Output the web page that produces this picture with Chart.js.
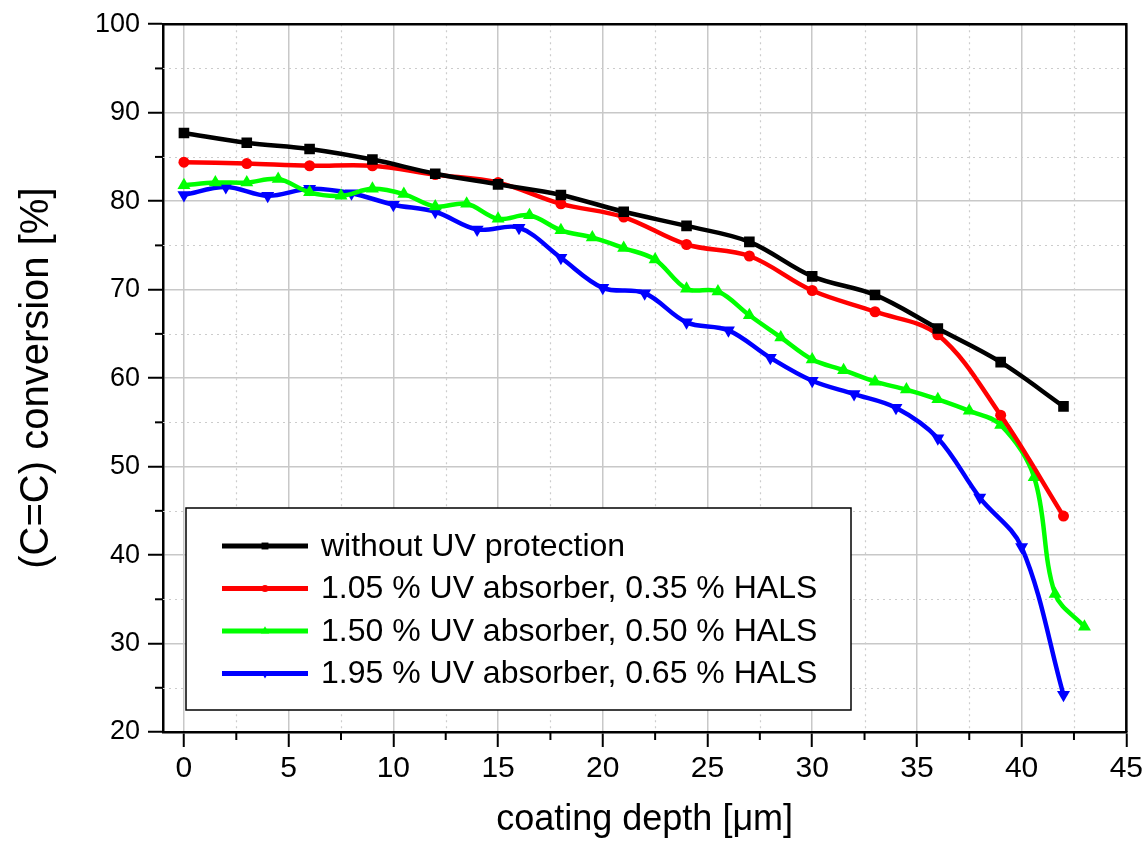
<!DOCTYPE html>
<html>
<head>
<meta charset="utf-8">
<title>(C=C) conversion vs coating depth</title>
<script src="https://cdn.jsdelivr.net/npm/chart.js@4.4.0/dist/chart.umd.min.js"></script>
<style>
  html, body { margin: 0; padding: 0; background: #fff; }
  #wrap { position: relative; width: 1147px; height: 842px; }
</style>
</head>
<body>
<div id="wrap"><canvas id="chart"></canvas></div>
<script>
// --- data ---
const depthBlack = [0, 3, 6, 9, 12, 15, 18, 21, 24, 27, 30, 33, 36, 39, 42];
const convBlack = [87.7, 86.6, 85.9, 84.7, 83.1, 81.9, 80.7, 78.8, 77.2, 75.4, 71.5, 69.4, 65.6, 61.8, 56.8];

const depthRed = [0, 3, 6, 9, 12, 15, 18, 21, 24, 27, 30, 33, 36, 39, 42];
const convRed = [84.4, 84.25, 84.0, 84.0, 83.0, 82.1, 79.7, 78.2, 75.1, 73.8, 69.9, 67.5, 64.9, 55.8, 44.4];

const depthGreen = [0, 1.5, 3, 4.5, 6, 7.5, 9, 10.5, 12, 13.5, 15, 16.5, 18, 19.5, 21, 22.5, 24, 25.5,
  27, 28.5, 30, 31.5, 33, 34.5, 36, 37.5, 39, 40.6, 41.6, 43];
const convGreen = [81.8, 82.1, 82.1, 82.5, 81.0, 80.6, 81.4, 80.8, 79.4, 79.7, 78.0, 78.4, 76.7, 75.9,
  74.7, 73.4, 70.1, 69.8, 67.1, 64.6, 62.1, 60.9, 59.6, 58.7, 57.6, 56.3, 54.7, 48.8, 35.6, 31.9];

const depthBlue = [0, 2, 4, 6, 8, 10, 12, 14, 16, 18, 20, 22, 24, 26, 28, 30, 32, 34, 36, 38, 40, 42];
const convBlue = [80.7, 81.6, 80.6, 81.4, 80.9, 79.6, 78.8, 76.8, 77.0, 73.6, 70.2, 69.6, 66.3, 65.4,
  62.3, 59.7, 58.2, 56.65, 53.2, 46.5, 40.9, 24.2];

const seriesLabels = [
  'without UV protection',
  '1.05 % UV absorber, 0.35 % HALS',
  '1.50 % UV absorber, 0.50 % HALS',
  '1.95 % UV absorber, 0.65 % HALS'
];

const xTickValues = [0, 5, 10, 15, 20, 25, 30, 35, 40, 45];
const xMinorValues = [2.5, 7.5, 12.5, 17.5, 22.5, 27.5, 32.5, 37.5, 42.5];
const yTickValues = [20, 30, 40, 50, 60, 70, 80, 90, 100];
const yMinorValues = [25, 35, 45, 55, 65, 75, 85, 95];

const FONT = "'Liberation Sans', Arial, Helvetica, sans-serif";

function toPoints(xs, ys) {
  return xs.map((x, i) => ({ x: x, y: ys[i] }));
}

function makeSet(label, xs, ys, color, style, radius, rotation) {
  return {
    label: label,
    data: toPoints(xs, ys),
    borderColor: color,
    backgroundColor: color,
    borderWidth: 4.5,
    pointStyle: style,
    pointRadius: radius,
    pointRotation: rotation || 0,
    pointBackgroundColor: color,
    pointBorderColor: color,
    pointBorderWidth: 0,
    tension: 0.35,
    fill: false
  };
}

// minor dotted grid, minor ticks and the top/right frame
const framePlugin = {
  id: 'frame',
  beforeDatasetsDraw(chart) {
    const { ctx, chartArea: a, scales: { x, y } } = chart;
    ctx.save();
    ctx.strokeStyle = '#cccccc';
    ctx.lineWidth = 1.2;
    ctx.setLineDash([2, 4]);
    xMinorValues.forEach(v => {
      const px = Math.round(x.getPixelForValue(v)) + 0.5;
      ctx.beginPath(); ctx.moveTo(px, a.top); ctx.lineTo(px, a.bottom); ctx.stroke();
    });
    yMinorValues.forEach(v => {
      const py = Math.round(y.getPixelForValue(v)) + 0.5;
      ctx.beginPath(); ctx.moveTo(a.left, py); ctx.lineTo(a.right, py); ctx.stroke();
    });
    ctx.setLineDash([]);
    ctx.strokeStyle = '#000';
    ctx.lineWidth = 2;
    xMinorValues.forEach(v => {
      const px = x.getPixelForValue(v);
      ctx.beginPath(); ctx.moveTo(px, a.bottom); ctx.lineTo(px, a.bottom + 8); ctx.stroke();
    });
    yMinorValues.forEach(v => {
      const py = y.getPixelForValue(v);
      ctx.beginPath(); ctx.moveTo(a.left - 8, py); ctx.lineTo(a.left, py); ctx.stroke();
    });
    ctx.restore();
  },
  afterDraw(chart) {
    const { ctx, chartArea: a } = chart;
    ctx.save();
    ctx.strokeStyle = '#000';
    ctx.lineWidth = 2.5;
    ctx.beginPath();
    ctx.moveTo(a.left, a.top);
    ctx.lineTo(a.right, a.top);
    ctx.lineTo(a.right, a.bottom);
    ctx.stroke();
    ctx.restore();
  }
};

// boxed legend in the lower left of the plot
const boxLegendPlugin = {
  id: 'boxLegend',
  afterDraw(chart) {
    const ctx = chart.ctx;
    const box = { left: 186, top: 508, right: 851, bottom: 710 };
    ctx.save();
    ctx.fillStyle = '#fff';
    ctx.fillRect(box.left, box.top, box.right - box.left, box.bottom - box.top);
    ctx.strokeStyle = '#000';
    ctx.lineWidth = 1.5;
    ctx.strokeRect(box.left, box.top, box.right - box.left, box.bottom - box.top);
    ctx.font = '32px ' + FONT;
    ctx.textBaseline = 'middle';
    ctx.textAlign = 'left';
    chart.data.datasets.forEach((ds, i) => {
      const yy = 546 + i * 42.5;
      ctx.strokeStyle = ds.borderColor;
      ctx.lineWidth = 5;
      ctx.beginPath(); ctx.moveTo(222, yy); ctx.lineTo(308, yy); ctx.stroke();
      ctx.fillStyle = ds.borderColor;
      Chart.helpers.drawPoint(ctx, {
        pointStyle: ds.pointStyle,
        radius: ds.pointRadius * 0.65,
        rotation: ds.pointRotation,
        borderWidth: 0
      }, 265, yy);
      ctx.fillStyle = '#000';
      ctx.fillText(ds.label, 321, yy + 1);
    });
    ctx.restore();
  }
};

new Chart(document.getElementById('chart'), {
  type: 'line',
  data: {
    datasets: [
      makeSet(seriesLabels[0], depthBlack, convBlack, '#000000', 'rect', 7.5),
      makeSet(seriesLabels[1], depthRed, convRed, '#ff0000', 'circle', 5.5),
      makeSet(seriesLabels[2], depthGreen, convGreen, '#00ff00', 'triangle', 7.5),
      makeSet(seriesLabels[3], depthBlue, convBlue, '#0000ff', 'triangle', 7.5, 180)
    ]
  },
  options: {
    responsive: true,
    maintainAspectRatio: false,
    animation: false,
    layout: { padding: { left: 0, right: 18, top: 22, bottom: 0 } },
    plugins: {
      legend: { display: false },
      tooltip: { enabled: false }
    },
    scales: {
      x: {
        type: 'linear',
        min: -1,
        max: 45,
        afterBuildTicks(scale) { scale.ticks = xTickValues.map(v => ({ value: v })); },
        afterFit(scale) { scale.height = 110; },
        grid: {
          color: '#c8c8c8',
          lineWidth: 1.5,
          drawTicks: true,
          tickLength: 15,
          tickColor: '#000',
          tickWidth: 2
        },
        border: { color: '#000', width: 2.5 },
        ticks: {
          color: '#000',
          font: { family: FONT, size: 30 },
          padding: 4,
          maxRotation: 0,
          autoSkip: false
        },
        title: {
          display: true,
          text: 'coating depth [μm]',
          color: '#000',
          font: { family: FONT, size: 36 },
          padding: { top: 0, bottom: 0 }
        }
      },
      y: {
        type: 'linear',
        min: 20,
        max: 100,
        afterBuildTicks(scale) { scale.ticks = yTickValues.map(v => ({ value: v })); },
        afterFit(scale) { scale.width = 163; },
        grid: {
          color: '#c8c8c8',
          lineWidth: 1.5,
          drawTicks: true,
          tickLength: 15,
          tickColor: '#000',
          tickWidth: 2
        },
        border: { color: '#000', width: 2.5 },
        ticks: {
          color: '#000',
          font: { family: FONT, size: 27 },
          padding: 8
        },
        title: {
          display: true,
          text: '(C=C) conversion [%]',
          color: '#000',
          font: { family: FONT, size: 40 },
          padding: { top: 13, bottom: 0 }
        }
      }
    }
  },
  plugins: [framePlugin, boxLegendPlugin]
});
</script>
</body>
</html>
